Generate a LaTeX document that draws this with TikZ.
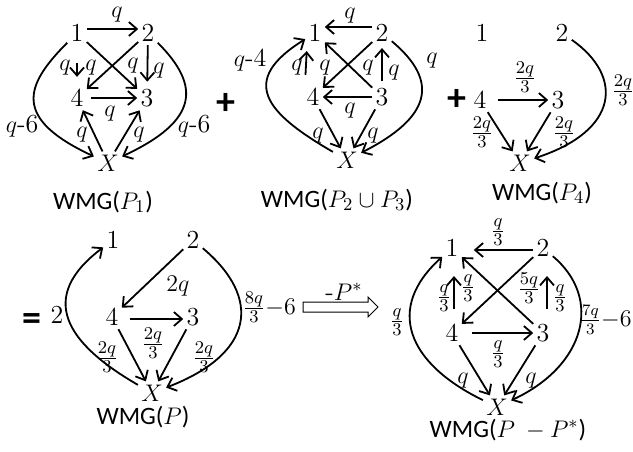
\documentclass[tikz,border=0pt]{standalone}
\usepackage{amsmath,amssymb}
\usepackage{fontspec}
\newfontfamily\wmgfont{Carlito}
\usepackage{tikz}
\usetikzlibrary{arrows.meta}

\begin{document}
\begin{tikzpicture}[x=0.5pt,y=0.5pt]
\tikzset{
  vtx/.style={inner sep=1.5pt,font=\fontsize{13}{15}\selectfont},
  lbl/.style={inner sep=0pt,font=\fontsize{13}{15}\selectfont},
  frc/.style={inner sep=0pt,font=\fontsize{12.5}{14}\selectfont},
  wmg/.style={inner sep=0pt,font=\wmgfont\fontsize{12.5}{14}\selectfont},
  op/.style={inner sep=0pt,font=\wmgfont\bfseries\fontsize{19}{19}\selectfont},
  arr/.style={-{Straight Barb[length=4pt,width=7pt]},line width=0.9pt}
}
\useasboundingbox (0,0) rectangle (633,-451);
\node(a1)[vtx] at (77,-33){1};
\node(a2)[vtx] at (148,-33){2};
\node(a4)[vtx] at (77,-98){4};
\node(a3)[vtx] at (147,-98){3};
\node(aX)[vtx] at (108,-163){$X$};
\node(aw)[wmg] at (103,-202){WMG($P_1$)};
\draw[arr]([yshift=2pt]a1.east)--([yshift=2pt]a2.west); \draw[arr,shorten <=9pt,shorten >=4.5pt](a1)--(a4);
\draw[arr](a1)--(a3); \draw[arr](a2)--(a4); \draw[arr,shorten >=2pt](a2)--(a3);
\draw[arr,shorten <=2pt](a4)--(a3); \draw[arr](aX)--(a4); \draw[arr](aX)--(a3);
\draw[arr](a1) .. controls +(225:75) and +(155:105) .. (aX);
\draw[arr](a2) .. controls +(-45:75) and +(25:100) .. (aX);
\node(aq12)[lbl] at (117,-15){$q$};
\node(aq14)[lbl] at (65,-68){$q$};
\node(aq24)[lbl] at (91,-68){$q$};
\node(aq13)[lbl] at (133,-66){$q$};
\node(aq23)[lbl] at (159,-71){$q$};
\node(aq43)[lbl] at (110,-114){$q$};
\node(aqx4)[lbl] at (82,-135){$q$};
\node(aqx3)[lbl] at (139,-135){$q$};
\node(aq1x)[lbl] at (22,-126){$q$-6};
\node(aq2x)[lbl] at (194,-126){$q$-6};
\node(plus1)[op] at (226,-104){+};
\node(b1)[vtx] at (315,-33){1};
\node(b2)[vtx] at (382,-33){2};
\node(b4)[vtx] at (313,-97){4};
\node(b3)[vtx] at (382,-97){3};
\node(bX)[vtx] at (347,-160){$X$};
\node(bw)[wmg] at (337,-200){WMG($P_2\cup P_3$)};
\draw[arr]([yshift=3pt]b2.west)--([yshift=3pt]b1.east); \draw[arr](b3)--(b4);
\draw[arr,shorten <=5pt,shorten >=3pt]([xshift=-4pt]b4.north)--([xshift=-4pt]b1.south);
\draw[arr,shorten <=2pt,shorten >=1.5pt](b3)--(b2);
\draw[arr](b3)--(b1); \draw[arr](b2)--(b4); \draw[arr](b4)--(bX); \draw[arr](b3)--(bX);
\draw[arr](bX) .. controls +(150:95) and +(212:90) .. (b1);
\draw[arr](b2) .. controls +(-40:75) and +(27:95) .. (bX);
\node(bq21)[lbl] at (350,-16){$q$};
\node(bq34)[lbl] at (350,-111){$q$};
\node(bq41)[lbl] at (297,-68){$q$};
\node(bq24)[lbl] at (325,-68){$q$};
\node(bq31)[lbl] at (368,-68){$q$};
\node(bq32)[lbl] at (394,-73){$q$};
\node(bq4x)[lbl] at (318,-136){$q$};
\node(bq3x)[lbl] at (373,-136){$q$};
\node(bqx1)[lbl] at (250,-60){$q$-4};
\node(bq2x)[lbl] at (432,-61){$q$};
\node(plus2)[op] at (457,-100){+};
\node(c1)[vtx] at (482,-33){1};
\node(c2)[vtx] at (562,-33){2};
\node(c4)[vtx] at (480,-100){4};
\node(c3)[vtx] at (558,-100){3};
\node(cX)[vtx] at (520,-163){$X$};
\node(cw)[wmg] at (542,-193){WMG($P_4$)};
\draw[arr,shorten <=4pt](c4)--(c3); \draw[arr](c4)--(cX); \draw[arr](c3)--(cX);
\draw[arr](c2) .. controls +(-35:75) and +(18:105) .. (cX);
\node(cq43)[frc] at (525,-77){$\frac{2q}{3}$};
\node(cq4x)[frc] at (482,-132){$\frac{2q}{3}$};
\node(cq3x)[frc] at (564,-132){$\frac{2q}{3}$};
\node(cq2x)[frc] at (623,-90){$\frac{2q}{3}$};
\node(eq)[op] at (32,-322){=};
\node(d1)[vtx] at (113,-240){1};
\node(d2)[vtx] at (193,-240){2};
\node(d4)[vtx] at (112,-317){4};
\node(d3)[vtx] at (193,-317){3};
\node(dX)[vtx] at (152,-393){$X$};
\node(dw)[wmg] at (143,-417){WMG($P$)};
\draw[arr](d2)--(d4); \draw[arr,shorten <=4pt]([yshift=-1pt]d4.east)--([yshift=-1pt]d3.west);
\draw[arr](d4)--(dX); \draw[arr](d3)--(dX);
\draw[arr](dX) .. controls +(150:100) and +(217:95) .. (d1);
\draw[arr](d2) .. controls +(-40:90) and +(21:110) .. (dX);
\node(dq24)[lbl] at (178,-286){$2q$};
\node(dq43)[frc] at (153,-343){$\frac{2q}{3}$};
\node(dq4x)[frc] at (107,-357){$\frac{2q}{3}$};
\node(dq3x)[frc] at (204,-357){$\frac{2q}{3}$};
\node(dqx1)[lbl] at (57,-315){2};
\node(dq2x)[frc,anchor=west] at (242,-307){$\frac{8q}{3}{-}6$};
\draw[line width=0.5pt](303,-302)--(368,-302)--(368,-297)--(378,-307)--(368,-317)--(368,-312)--(303,-312)--cycle;
\node(minus)[lbl,anchor=base] at (344,-300){-$P^*$};
\node(e1)[vtx] at (452,-248){1};
\node(e2)[vtx] at (543,-248){2};
\node(e4)[vtx] at (452,-333){4};
\node(e3)[vtx] at (543,-333){3};
\node(eX)[vtx] at (497,-407){$X$};
\node(ew)[wmg] at (508,-430){WMG($P\ -P^*$)};
\draw[arr,shorten >=6pt]([yshift=-1pt]e2.west)--([yshift=-1pt]e1.east); \draw[arr,shorten <=5pt](e4)--(e3);
\draw[arr,shorten <=6pt,shorten >=8pt]([xshift=1pt]e4.north)--([xshift=1pt]e1.south);
\draw[arr,shorten <=6pt,shorten >=8pt]([xshift=2pt]e3.north)--([xshift=2pt]e2.south);
\draw[arr](e3)--(e1); \draw[arr](e2)--(e4); \draw[arr](e4)--(eX); \draw[arr](e3)--(eX);
\draw[arr](eX) .. controls +(154:100) and +(222:90) .. (e1);
\draw[arr](e2) .. controls +(-40:78) and +(25:98) .. (eX);
\node(eq21)[frc] at (498,-232){$\frac{q}{3}$};
\node(eq43)[frc] at (498,-354){$\frac{q}{3}$};
\node(eq41)[frc] at (444,-298){$\frac{q}{3}$};
\node(eq31)[frc] at (468,-288){$\frac{q}{3}$};
\node(eq24)[frc] at (529,-288){$\frac{5q}{3}$};
\node(eq32)[frc] at (560,-298){$\frac{q}{3}$};
\node(eq4x)[lbl] at (463,-381){$q$};
\node(eq3x)[lbl] at (531,-381){$q$};
\node(eqx1)[frc] at (397,-322){$\frac{q}{3}$};
\node(eq2x)[frc,anchor=east,font=\fontsize{11.5}{13}\selectfont] at (632,-320){$\frac{7q}{3}{-}6$};
\end{tikzpicture}
\end{document}
